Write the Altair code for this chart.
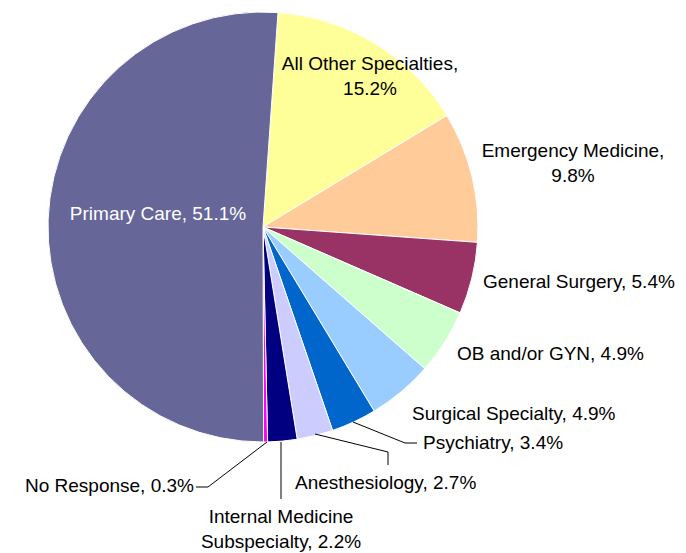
import math
import altair as alt
import pandas as pd

# ---- data ----
categories = ["All Other Specialties", "Emergency Medicine", "General Surgery",
              "OB and/or GYN", "Surgical Specialty", "Psychiatry", "Anesthesiology",
              "Internal Medicine Subspecialty", "No Response", "Primary Care"]
shares = [15.2, 9.8, 5.4, 4.9, 4.9, 3.4, 2.7, 2.2, 0.3, 51.1]
colors = ["#FFFF99", "#FFCC99", "#993366", "#CCFFCC", "#99CCFF", "#0066CC",
          "#CCCCFF", "#000080", "#FF00FF", "#666699"]

# ---- layout ----
W, H = 670, 545
CX, CY, R = 255, 219, 215
START = math.radians(4)
FONT = "Liberation Sans"
FS = 19
LH = 25

# label placement: (x, first baseline, align, text colour, line split)
label_layout = {
    "All Other Specialties": (362, 62, "center", "black", "after_comma"),
    "Emergency Medicine": (565, 149, "center", "black", "after_comma"),
    "General Surgery": (475, 280, "left", "black", None),
    "OB and/or GYN": (449, 352, "left", "black", None),
    "Surgical Specialty": (404, 412, "left", "black", None),
    "Psychiatry": (415, 441, "left", "black", None),
    "Anesthesiology": (287, 481, "left", "black", None),
    "Internal Medicine Subspecialty": (273, 515, "center", "black", "Internal Medicine"),
    "No Response": (186, 484, "right", "black", None),
    "Primary Care": (150, 212, "center", "white", None),
}

# leader lines (polyline points)
leaders = {
    "No Response": [(259, 434), (200, 479), (188, 479)],
    "Internal Medicine Subspecialty": [(273, 434), (273, 491)],
    "Anesthesiology": [(307, 426), (380, 444), (380, 457)],
    "Psychiatry": [(345, 414), (397, 435), (409, 435)],
}

pie_df = pd.DataFrame({
    "category": categories,
    "share": shares,
    "order": list(range(len(categories))),
})

rows = []
for cat, val in zip(categories, shares):
    x, y, align, tc, split = label_layout[cat]
    full = f"{cat}, {val}%"
    if split == "after_comma":
        lines = [f"{cat},", f"{val}%"]
    elif split:
        lines = [split, full[len(split):].strip()]
    else:
        lines = [full]
    for i, ln in enumerate(lines):
        rows.append({"x": x, "y": y + i * LH, "text": ln, "align": align, "tc": tc})
lab_df = pd.DataFrame(rows)

lrows = []
for cat, pts in leaders.items():
    for i, (x, y) in enumerate(pts):
        lrows.append({"cat": cat, "i": i, "x": x, "y": y})
lead_df = pd.DataFrame(lrows)

xs = alt.Scale(domain=[0, W], range=[0, W])
ys = alt.Scale(domain=[0, H], range=[0, H])

pie = alt.Chart(pie_df).mark_arc(radius=R, stroke="white", strokeWidth=1).encode(
    theta=alt.Theta("share:Q", stack=True,
                    scale=alt.Scale(range=[START, START + 2 * math.pi])),
    color=alt.Color("category:N", scale=alt.Scale(domain=categories, range=colors), legend=None),
    order=alt.Order("order:Q"),
    x=alt.value(CX),
    y=alt.value(CY),
)

lines = alt.Chart(lead_df).mark_line(color="black", strokeWidth=1).encode(
    x=alt.X("x:Q", scale=xs, axis=None),
    y=alt.Y("y:Q", scale=ys, axis=None),
    detail="cat:N",
    order="i:Q",
)

text_layers = []
for al in ["left", "center", "right"]:
    sub = lab_df[lab_df["align"] == al]
    if len(sub) == 0:
        continue
    text_layers.append(
        alt.Chart(sub).mark_text(align=al, baseline="alphabetic", font=FONT, fontSize=FS).encode(
            x=alt.X("x:Q", scale=xs, axis=None),
            y=alt.Y("y:Q", scale=ys, axis=None),
            text="text:N",
            color=alt.Color("tc:N", scale=None),
        )
    )

chart = alt.layer(pie, lines, *text_layers).properties(
    width=W, height=H, padding=0, autosize=alt.AutoSizeParams(type="none")
).resolve_scale(color="independent").configure_view(stroke=None)

chart.save("out.html", embed_options={"renderer": "svg", "actions": False})
